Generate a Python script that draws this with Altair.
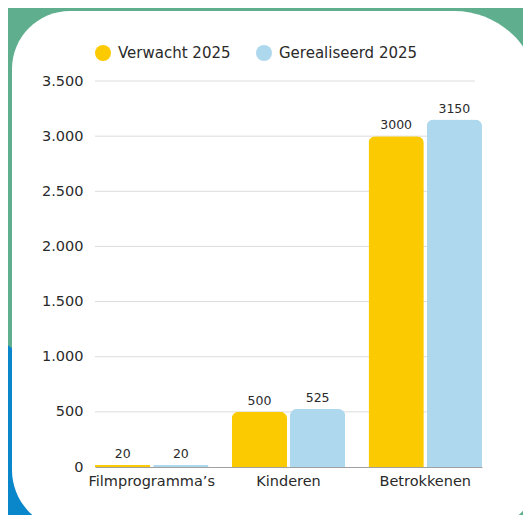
import altair as alt
import pandas as pd

categories = ["Filmprogramma’s", "Kinderen", "Betrokkenen"]
series_names = ["Verwacht 2025", "Gerealiseerd 2025"]
verwacht = [20, 500, 3000]
gerealiseerd = [20, 525, 3150]
y_ticks = [0, 500, 1000, 1500, 2000, 2500, 3000, 3500]
colors = ["#FCCA00", "#AED8EE"]

rows = []
for c, v, g in zip(categories, verwacht, gerealiseerd):
    rows.append({"category": c, "series": series_names[0], "value": v})
    rows.append({"category": c, "series": series_names[1], "value": g})
df = pd.DataFrame(rows)
one = pd.DataFrame({"k": [0]})
grid_df = pd.DataFrame({"value": y_ticks[1:]})

FONT = "DejaVu Sans"
TXT = "#2a2a2a"

# decorative background pieces (not data)
blob = alt.Chart(one).mark_point(shape="circle", filled=True, color="#0A87CA",
                                  opacity=1, size=360000, strokeWidth=0).encode(
    x=alt.value(-262), y=alt.value(508))
card = alt.Chart(one).mark_rect(color="white", cornerRadiusTopLeft=58,
                                cornerRadiusTopRight=85, cornerRadiusBottomLeft=60,
                                cornerRadiusBottomRight=60).encode(
    x=alt.value(-83), x2=alt.value(444), y=alt.value(-70), y2=alt.value(449))

y_scale = alt.Scale(domain=[0, 3500])
y_axis = alt.Axis(values=y_ticks, title=None, ticks=False, domain=False,
                  labelExpr="replace(format(datum.value, ','), ',', '.')",
                  grid=False, labelPadding=12, labelFontSize=14.5,
                  labelColor=TXT, labelFont=FONT, zindex=1)

grid = alt.Chart(grid_df).mark_rule(color="#dcdcdc", strokeWidth=1).encode(
    y=alt.Y("value:Q", scale=y_scale, axis=y_axis),
    x=alt.value(0), x2=alt.value(380))

x_enc = alt.X("category:N", sort=categories,
              scale=alt.Scale(paddingInner=0.17, paddingOuter=0),
              axis=alt.Axis(title=None, labelAngle=0, ticks=False, domain=True,
                            domainColor="#a0a0a0", labelPadding=7, labelFontSize=14.5,
                            labelColor=TXT, grid=False, labelFont=FONT, zindex=1))
xo_enc = alt.XOffset("series:N", sort=series_names,
                     scale=alt.Scale(paddingInner=0.05, paddingOuter=0))
y_enc = alt.Y("value:Q", scale=y_scale, axis=y_axis)

bars = alt.Chart(df).mark_bar(cornerRadiusTopLeft=7, cornerRadiusTopRight=7).encode(
    x=x_enc, xOffset=xo_enc, y=y_enc,
    color=alt.Color("series:N", sort=series_names,
                    scale=alt.Scale(domain=series_names, range=colors),
                    legend=alt.Legend(title=None, orient="none", legendX=0, legendY=-36,
                                      direction="horizontal", symbolType="circle",
                                      symbolSize=256, symbolStrokeWidth=0,
                                      symbolOpacity=1, labelFontSize=15, labelColor=TXT,
                                      labelFont=FONT, labelOffset=7, columnPadding=25,
                                      padding=0, zindex=1)))

labels = alt.Chart(df).mark_text(baseline="alphabetic", dy=-7, fontSize=12.5,
                                 color=TXT, font=FONT).encode(
    x=alt.X("category:N", sort=categories), xOffset=alt.XOffset("series:N", sort=series_names),
    y=y_enc, text=alt.Text("value:Q", format="d"))

chart = alt.layer(blob, card, grid, bars, labels).properties(
    width=387, height=386,
    autosize=alt.AutoSizeParams(type="none"),
    padding={"left": 87, "top": 73, "right": 41, "bottom": 48},
).configure(background="#5FAE8E", font=FONT).configure_view(stroke=None)

chart.save("out.html", embed_options={"renderer": "svg", "actions": False})
